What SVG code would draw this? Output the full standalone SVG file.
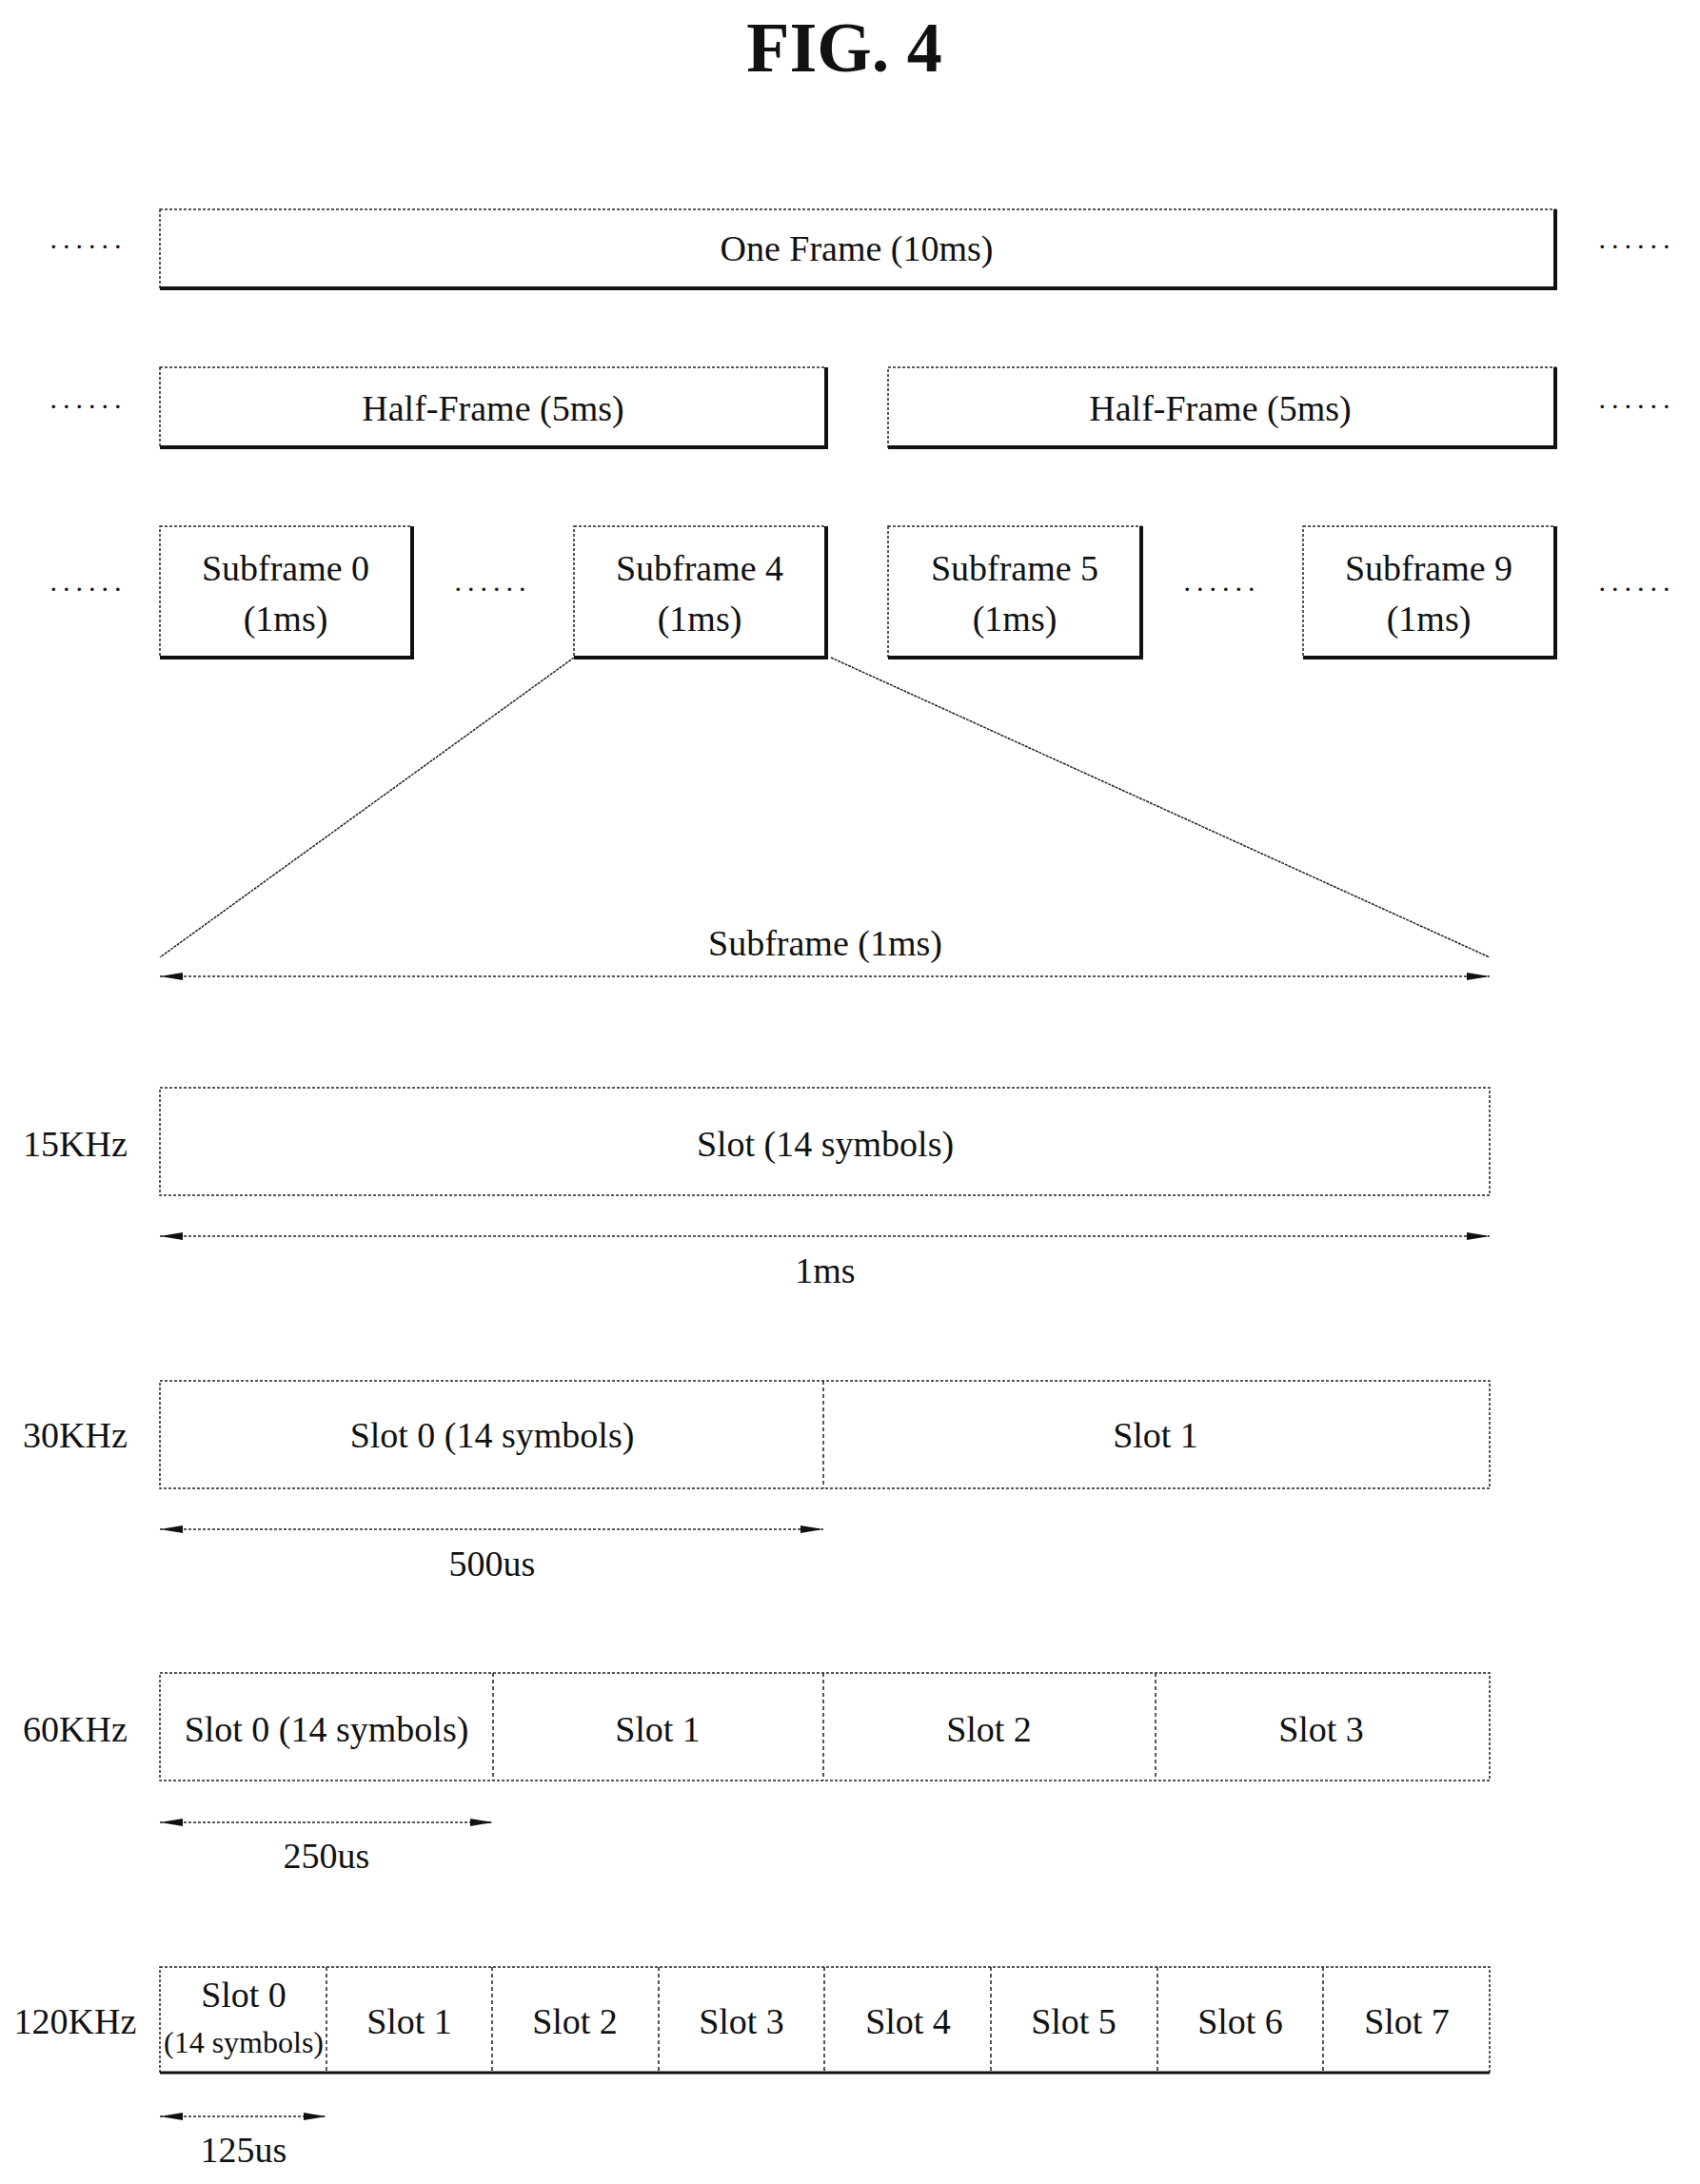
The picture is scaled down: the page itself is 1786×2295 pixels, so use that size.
<svg xmlns="http://www.w3.org/2000/svg" width="1786" height="2295" viewBox="0 0 1786 2295">
<style>
text{font-family:"Liberation Serif","Times New Roman",serif;font-size:38px;fill:#111;text-anchor:middle;dominant-baseline:central}
.title{font-size:74px;font-weight:bold}
.box{fill:#fff;stroke:#222;stroke-width:1.5;stroke-dasharray:3 2}
.sh{fill:none;stroke:#111;stroke-width:4}
.div{stroke:#222;stroke-width:1.5;stroke-dasharray:4 3}
.arr{stroke:#222;stroke-width:1.5;stroke-dasharray:3 2;marker-start:url(#a);marker-end:url(#a)}
.zl{stroke:#222;stroke-width:1.5;stroke-dasharray:3 1}
.dots{font-size:30px;letter-spacing:6px}
</style>
<defs>
<marker id="a" viewBox="0 0 24 10" refX="24" refY="5" markerWidth="24" markerHeight="10" markerUnits="userSpaceOnUse" orient="auto-start-reverse"><path d="M0,1L24,5L0,9Z" fill="#111"/></marker>
</defs>
<text class="title" x="887" y="50">FIG. 4</text>
<g id="frame"><rect class="box" x="168" y="220" width="1466" height="83"/><polyline class="sh" points="168,303 1634,303 1634,220"/><text x="900" y="261">One Frame (10ms)</text></g>
<g id="dots"><text class="dots" x="93" y="250">......</text><text class="dots" x="1720" y="250">......</text>
<text class="dots" x="93" y="418">......</text><text class="dots" x="1720" y="418">......</text>
<text class="dots" x="93" y="610">......</text><text class="dots" x="518" y="610">......</text><text class="dots" x="1284" y="610">......</text><text class="dots" x="1720" y="610">......</text></g>
<g id="half0"><rect class="box" x="168" y="386" width="700" height="84"/><polyline class="sh" points="168,470 868,470 868,386"/><text x="518" y="429">Half-Frame (5ms)</text></g>
<g id="half1"><rect class="box" x="933" y="386" width="701" height="84"/><polyline class="sh" points="933,470 1634,470 1634,386"/><text x="1282" y="429">Half-Frame (5ms)</text></g>
<g id="sf0"><rect class="box" x="168" y="553" width="265" height="138"/><polyline class="sh" points="168,691 433,691 433,553"/><text x="300" y="597">Subframe 0</text><text x="300" y="650">(1ms)</text></g>
<g id="sf4"><rect class="box" x="603" y="553" width="265" height="138"/><polyline class="sh" points="603,691 868,691 868,553"/><text x="735" y="597">Subframe 4</text><text x="735" y="650">(1ms)</text></g>
<g id="sf5"><rect class="box" x="933" y="553" width="266" height="138"/><polyline class="sh" points="933,691 1199,691 1199,553"/><text x="1066" y="597">Subframe 5</text><text x="1066" y="650">(1ms)</text></g>
<g id="sf9"><rect class="box" x="1369" y="553" width="265" height="138"/><polyline class="sh" points="1369,691 1634,691 1634,553"/><text x="1501" y="597">Subframe 9</text><text x="1501" y="650">(1ms)</text></g>
<g id="connectors">
<line class="zl" x1="603" y1="691" x2="168" y2="1006"/><line class="zl" x1="873" y1="691" x2="1565" y2="1006"/>
<line class="arr" x1="168" y1="1026" x2="1565" y2="1026"/>
<line class="arr" x1="168" y1="1299" x2="1565" y2="1299"/>
<line class="arr" x1="168" y1="1607" x2="865" y2="1607"/>
<line class="arr" x1="168" y1="1915" x2="518" y2="1915"/>
<line class="arr" x1="168" y1="2224" x2="343" y2="2224"/>
</g>
<text x="867" y="991">Subframe (1ms)</text>
<g id="r15"><text x="79" y="1202">15KHz</text><rect class="box" x="168" y="1143" width="1397" height="113"/><text x="867" y="1202">Slot (14 symbols)</text><text x="867" y="1335">1ms</text></g>
<g id="r30"><text x="79" y="1508">30KHz</text><rect class="box" x="168" y="1451" width="1397" height="113"/><line class="div" x1="865" y1="1451" x2="865" y2="1564"/><text x="517" y="1508">Slot 0 (14 symbols)</text><text x="1214" y="1508">Slot 1</text><text x="517" y="1643">500us</text></g>
<g id="r60"><text x="79" y="1817">60KHz</text><rect class="box" x="168" y="1758" width="1397" height="113"/><line class="div" x1="518" y1="1758" x2="518" y2="1871"/><line class="div" x1="865" y1="1758" x2="865" y2="1871"/><line class="div" x1="1214" y1="1758" x2="1214" y2="1871"/>
<text x="343" y="1817">Slot 0 (14 symbols)</text><text x="691" y="1817">Slot 1</text><text x="1039" y="1817">Slot 2</text><text x="1388" y="1817">Slot 3</text><text x="343" y="1950">250us</text></g>
<g id="r120"><text x="79" y="2124">120KHz</text><rect class="box" x="168" y="2067" width="1397" height="111"/><line x1="168" y1="2178" x2="1565" y2="2178" stroke="#111" stroke-width="3"/>
<line class="div" x1="343" y1="2067" x2="343" y2="2178"/><line class="div" x1="517" y1="2067" x2="517" y2="2178"/><line class="div" x1="692" y1="2067" x2="692" y2="2178"/><line class="div" x1="866" y1="2067" x2="866" y2="2178"/><line class="div" x1="1041" y1="2067" x2="1041" y2="2178"/><line class="div" x1="1216" y1="2067" x2="1216" y2="2178"/><line class="div" x1="1390" y1="2067" x2="1390" y2="2178"/>
<text x="256" y="2096">Slot 0</text><text x="256" y="2146" style="font-size:32px">(14 symbols)</text>
<text x="430" y="2124">Slot 1</text><text x="604" y="2124">Slot 2</text><text x="779" y="2124">Slot 3</text><text x="954" y="2124">Slot 4</text><text x="1128" y="2124">Slot 5</text><text x="1303" y="2124">Slot 6</text><text x="1478" y="2124">Slot 7</text>
<text x="256" y="2259">125us</text></g>
</svg>
